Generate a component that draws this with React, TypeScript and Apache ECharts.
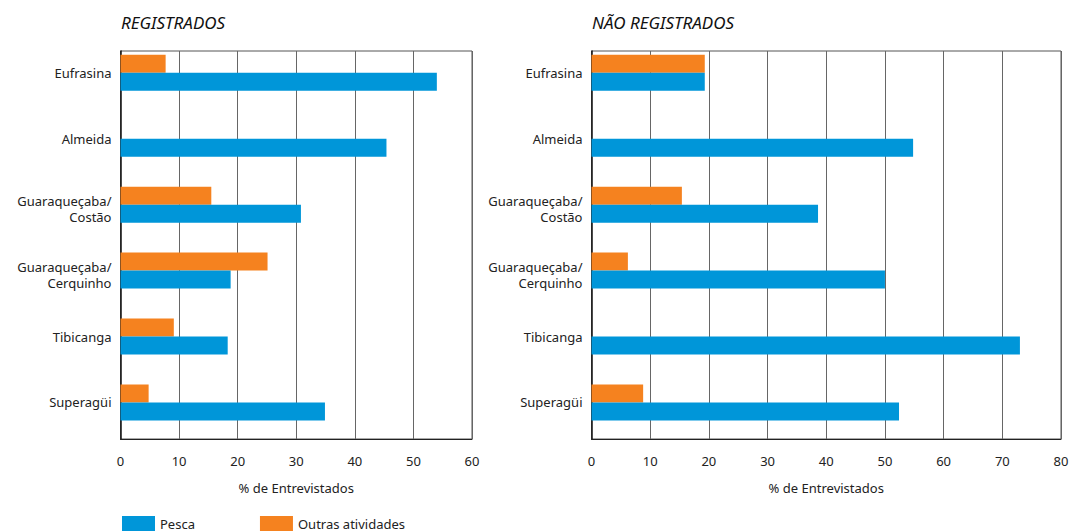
import React, { useEffect, useRef } from "react";
import * as echarts from "echarts";

const categories = [
  "Eufrasina",
  "Almeida",
  "Guaraqueçaba/\nCostão",
  "Guaraqueçaba/\nCerquinho",
  "Tibicanga",
  "Superagüi",
];
const regPesca = [54.0, 45.4, 30.8, 18.8, 18.3, 34.9];
const regOutras = [7.7, null, 15.5, 25.1, 9.1, 4.8];
const naoPesca = [19.3, 54.8, 38.6, 50.0, 73.0, 52.4];
const naoOutras = [19.3, null, 15.4, 6.2, null, 8.8];
const regTicks = { min: 0, max: 60, interval: 10 };
const naoTicks = { min: 0, max: 80, interval: 10 };
const titles = ["REGISTRADOS", "NÃO REGISTRADOS"];
const axisName = "% de Entrevistados";
const seriesNames = ["Pesca", "Outras atividades"];

const BLUE = "#0096D9";
const ORANGE = "#F5821F";
const FONT = "Noto Sans";

export default function App() {
  const ref = useRef<HTMLDivElement>(null);
  useEffect(() => {
    if (!ref.current) return;
    const chart = echarts.init(ref.current, null, { renderer: "svg" });
    const rev = <T,>(a: T[]) => a.slice().reverse();
    const cats = rev(categories);
    const fmt = (v: string) =>
      v.includes("\n")
        ? "{gap| }\n" + v.split("\n").map((l) => "{t|" + l + "}").join("\n")
        : v;
    const panels = [
      { left: 120.5, width: 351.5, ticks: regTicks, pesca: regPesca, outras: regOutras },
      { left: 591.5, width: 469.5, ticks: naoTicks, pesca: naoPesca, outras: naoOutras },
    ];
    const grids: any[] = [];
    const xAxes: any[] = [];
    const yAxes: any[] = [];
    const series: any[] = [];
    panels.forEach((p, i) => {
      grids.push({
        left: p.left, width: p.width, top: 51, height: 388,
        show: true, borderColor: "#555", borderWidth: 1, backgroundColor: "transparent",
      });
      grids.push({ left: p.left, width: p.width, top: 39.8, height: 395.6 });
      xAxes.push({
        gridIndex: 2 * i, type: "value", ...p.ticks,
        axisLine: { show: true, lineStyle: { color: "#222", width: 1 } },
        axisTick: { show: false },
        splitLine: { show: true, lineStyle: { color: "#666", width: 1 } },
        axisLabel: { color: "#222", fontFamily: FONT, fontSize: 13, margin: 15 },
        name: axisName, nameLocation: "middle", nameGap: 42,
        nameTextStyle: { color: "#222", fontFamily: FONT, fontSize: 13 },
      });
      xAxes.push({
        gridIndex: 2 * i + 1, type: "value", ...p.ticks, show: false,
      });
      yAxes.push({
        gridIndex: 2 * i, type: "category", data: cats,
        axisLine: { show: true, lineStyle: { color: "#111", width: 1.5 } },
        axisTick: { show: false }, axisLabel: { show: false },
      });
      yAxes.push({
        gridIndex: 2 * i + 1, type: "category", data: cats,
        axisLine: { show: false }, axisTick: { show: false }, splitLine: { show: false },
        axisLabel: {
          color: "#222", fontFamily: FONT, fontSize: 13, margin: 9,
          formatter: fmt,
          rich: {
            gap: { fontSize: 4, lineHeight: 8, fontFamily: FONT },
            t: { fontSize: 13, lineHeight: 16, color: "#222", fontFamily: FONT, align: "right" },
          },
        },
      });
      series.push({
        name: seriesNames[1], type: "bar", xAxisIndex: 2 * i + 1, yAxisIndex: 2 * i + 1,
        data: rev(p.outras), barWidth: 18, barGap: "0%", itemStyle: { color: ORANGE },
      });
      series.push({
        name: seriesNames[0], type: "bar", xAxisIndex: 2 * i + 1, yAxisIndex: 2 * i + 1,
        data: rev(p.pesca), barWidth: 18, barGap: "0%", itemStyle: { color: BLUE },
      });
    });
    chart.setOption({
      animation: false,
      backgroundColor: "#fff",
      title: [
        { text: titles[0], left: 121, top: 14, padding: 0, textStyle: { fontFamily: FONT, fontStyle: "italic", fontWeight: "normal", fontSize: 17, color: "#111" } },
        { text: titles[1], left: 592, top: 14, padding: 0, textStyle: { fontFamily: FONT, fontStyle: "italic", fontWeight: "normal", fontSize: 17, color: "#111" } },
      ],
      legend: {
        left: 122, top: 516, padding: 0, itemWidth: 33, itemHeight: 15, itemGap: 65,
        icon: "rect", data: seriesNames,
        textStyle: { color: "#222", fontFamily: FONT, fontSize: 13 },
      },
      grid: grids, xAxis: xAxes, yAxis: yAxes, series,
    });
    return () => chart.dispose();
  }, []);
  return (
    <div ref={ref} style={{ position: "fixed", left: 0, top: 0, width: 1072, height: 532 }} />
  );
}
